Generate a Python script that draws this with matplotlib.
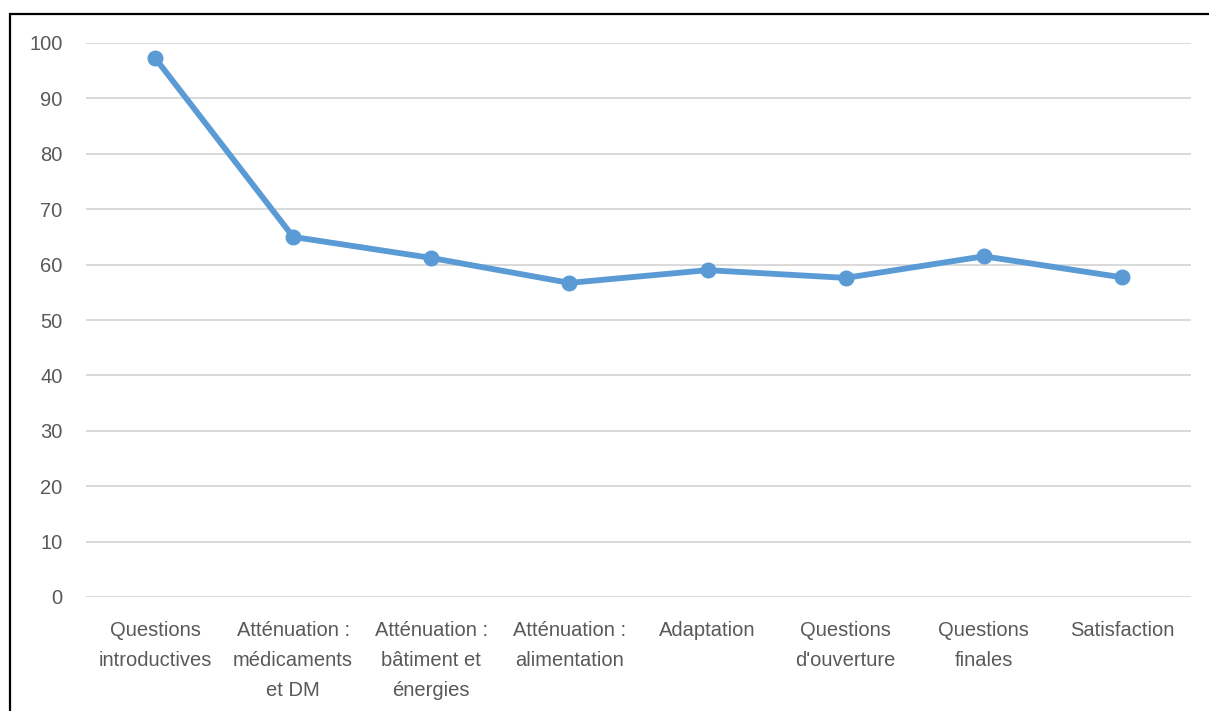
import matplotlib
matplotlib.use("Agg")
import matplotlib.pyplot as plt
from matplotlib.patches import Rectangle

categories = ["Questions\nintroductives", "Atténuation :\nmédicaments\net DM",
              "Atténuation :\nbâtiment et\nénergies", "Atténuation :\nalimentation",
              "Adaptation", "Questions\nd'ouverture", "Questions\nfinales", "Satisfaction"]
values = [97.3, 65.0, 61.2, 56.7, 59.0, 57.6, 61.5, 57.7]
yticks = [0, 10, 20, 30, 40, 50, 60, 70, 80, 90, 100]

plt.rcParams['font.family'] = ['Liberation Sans', 'DejaVu Sans']

W, H = 1209, 711
fig = plt.figure(figsize=(W / 100, H / 100), dpi=100)
ax = fig.add_axes([86 / W, 1 - 597 / H, (1191 - 86) / W, (597 - 43) / H])

x = list(range(len(categories)))
ax.plot(x, values, color="#5B9BD5", linewidth=4.2, marker="o", markersize=10.5,
        solid_capstyle="round", zorder=3)

ax.set_xlim(-0.5, len(categories) - 0.5)
ax.set_ylim(0, 100)
ax.set_yticks(yticks)
ax.set_yticklabels([str(v) for v in yticks])
ax.set_xticks(x)
ax.set_xticklabels(categories, linespacing=1.75)
ax.grid(axis="y", color="#D9D9D9", linewidth=1.4)
ax.set_axisbelow(True)
for s in ax.spines.values():
    s.set_visible(False)
ax.tick_params(axis="both", length=0, labelsize=14.5, colors="#595959")
ax.tick_params(axis="x", pad=17)
ax.tick_params(axis="y", pad=17)

# outer border (left and top visible)
fig.patches.append(Rectangle((9.5 / W, -0.1), 1.2, 1 - 13.5 / H + 0.1, transform=fig.transFigure,
                             fill=False, edgecolor="black", linewidth=1.6))

fig.savefig("out.png", dpi=100)
